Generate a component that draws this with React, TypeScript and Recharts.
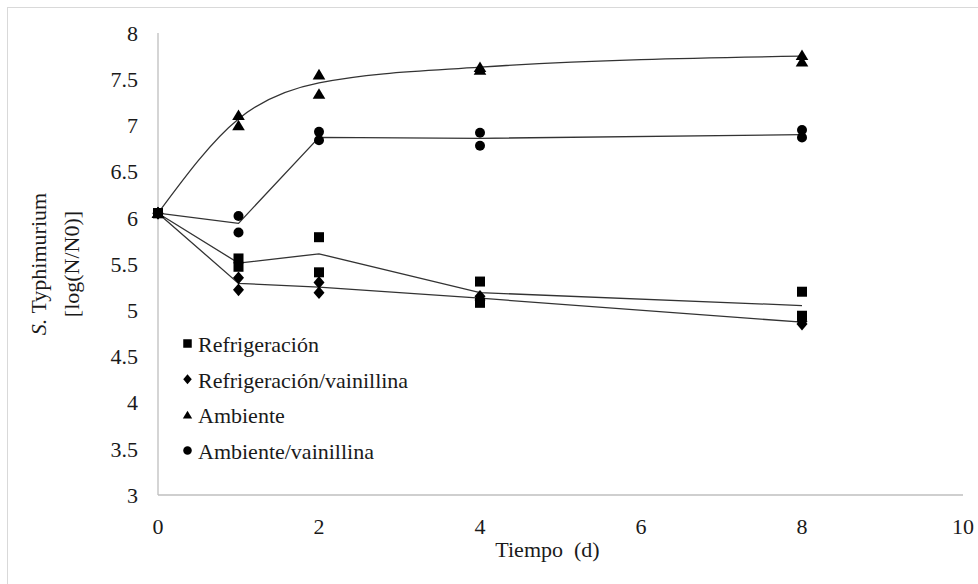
import React from 'react';
import { ComposedChart, Line, Scatter, XAxis, YAxis, Legend, Label } from 'recharts';

// días de muestreo
const days = [0, 1, 2, 4, 8];
const xTicks = [0, 2, 4, 6, 8, 10];
const yTicks = [3, 3.5, 4, 4.5, 5, 5.5, 6, 6.5, 7, 7.5, 8];

const seriesNames = ['Refrigeración', 'Refrigeración/vainillina', 'Ambiente', 'Ambiente/vainillina'];

// promedios (líneas)
const refMean = [6.05, 5.51, 5.61, 5.19, 5.05];
const refVanMean = [6.05, 5.29, 5.25, 5.13, 4.87];
const ambMean = [6.05, 7.07, 7.46, 7.63, 7.75];
const ambVanMean = [6.05, 5.94, 6.87, 6.86, 6.9];

// réplicas (puntos)
const refRepA = [6.05, 5.56, 5.79, 5.31, 5.2];
const refRepB = [6.05, 5.47, 5.41, 5.08, 4.94];
const refVanRepA = [6.05, 5.35, 5.3, 5.15, 4.88];
const refVanRepB = [6.05, 5.22, 5.19, 5.11, 4.85];
const ambRepA = [6.05, 7.11, 7.55, 7.63, 7.76];
const ambRepB = [6.05, 7.0, 7.34, 7.6, 7.69];
const ambVanRepA = [6.05, 6.02, 6.93, 6.92, 6.95];
const ambVanRepB = [6.05, 5.84, 6.84, 6.78, 6.87];

const FONT = "'Liberation Serif', 'Times New Roman', serif";
const INK = '#1a1a1a';

const toLine = (vals: number[]) => days.map((t, i) => ({ t, v: vals[i] }));
const toPoints = (a: number[], b: number[]) =>
  days.flatMap((t, i) => [
    { t, v: a[i] },
    { t, v: b[i] },
  ]);

const square = (cx: number, cy: number, s: number) => (
  <rect x={cx - s / 2} y={cy - s / 2} width={s} height={s} fill="#000" />
);
const diamond = (cx: number, cy: number, s: number) => (
  <path
    d={`M${cx},${cy - s * 0.58} L${cx + s / 2},${cy} L${cx},${cy + s * 0.58} L${cx - s / 2},${cy} Z`}
    fill="#000"
  />
);
const triangle = (cx: number, cy: number, s: number) => (
  <path
    d={`M${cx},${cy - s * 0.5} L${cx + s * 0.55},${cy + s * 0.42} L${cx - s * 0.55},${cy + s * 0.42} Z`}
    fill="#000"
  />
);
const circle = (cx: number, cy: number, s: number) => <circle cx={cx} cy={cy} r={s / 2} fill="#000" />;

const markers = [square, diamond, triangle, circle];

const shapeOf = (draw: typeof square, s: number) => (props: any) => {
  const { cx, cy } = props;
  if (cx == null || cy == null) return <g />;
  return draw(cx, cy, s);
};

const LegendBox = () => (
  <svg width={260} height={150} style={{ display: 'block' }}>
    {seriesNames.map((name, i) => {
      const base = 27 + i * 35.7;
      return (
        <g key={name}>
          {markers[i](12.5, base - 8.5, 8.5)}
          <text x={23} y={base} fontFamily={FONT} fontSize={22} fill={INK}>
            {name}
          </text>
        </g>
      );
    })}
  </svg>
);

const YTitle = ({ viewBox }: any) => {
  const cx = 46;
  const cy = viewBox.y + viewBox.height / 2;
  return (
    <text
      transform={`rotate(-90, ${cx}, ${cy})`}
      x={cx}
      y={cy}
      textAnchor="middle"
      fontFamily={FONT}
      fontSize={22}
      fill={INK}
    >
      <tspan x={cx} dy={0}>
        <tspan fontStyle="italic">S.</tspan> Typhimurium
      </tspan>
      <tspan x={cx} dy={33}>
        [log(N/N0)]
      </tspan>
    </text>
  );
};

const XTitle = ({ viewBox }: any) => (
  <text
    x={viewBox.x + viewBox.width / 2 - 13}
    y={viewBox.y + 62}
    textAnchor="middle"
    fontFamily={FONT}
    fontSize={22}
    fill={INK}
    style={{ whiteSpace: 'pre' }}
  >
    {'Tiempo  (d)'}
  </text>
);

export default function App() {
  const tickStyle = { fontSize: 22, fontFamily: FONT, fill: INK };
  const lineStroke = '#333';
  return (
    <div style={{ position: 'absolute', left: 0, top: 0, width: 978, height: 584, background: '#fff' }}>
      <div
        style={{
          position: 'absolute',
          left: 7,
          top: 7,
          width: 990,
          height: 600,
          border: '1px solid #d9d9d9',
          boxSizing: 'border-box',
        }}
      />
      <ComposedChart
        width={978}
        height={584}
        margin={{ top: 33, right: 15, bottom: 19, left: 0 }}
        style={{ position: 'absolute', left: 0, top: 0 }}
      >
        <XAxis
          type="number"
          dataKey="t"
          domain={[0, 10]}
          ticks={xTicks}
          height={70}
          tickLine={false}
          tickSize={0}
          tickMargin={23}
          axisLine={{ stroke: '#bfbfbf', strokeWidth: 1.3 }}
          tick={tickStyle}
          allowDuplicatedCategory={false}
        >
          <Label content={XTitle} />
        </XAxis>
        <YAxis
          type="number"
          domain={[3, 8]}
          ticks={yTicks}
          width={158}
          tickLine={false}
          tickSize={0}
          tickMargin={20}
          axisLine={{ stroke: '#bfbfbf', strokeWidth: 1.3 }}
          tick={tickStyle}
          interval={0}
        >
          <Label content={YTitle} />
        </YAxis>
        <Legend
          layout="vertical"
          align="center"
          verticalAlign="middle"
          wrapperStyle={{ left: 175, top: 325, width: 260, height: 150 }}
          content={LegendBox}
        />

        <Line data={toLine(ambMean)} dataKey="v" type="monotone" stroke={lineStroke} strokeWidth={1.3} dot={false} activeDot={false} legendType="none" isAnimationActive={false} />
        <Line data={toLine(ambVanMean)} dataKey="v" type="linear" stroke={lineStroke} strokeWidth={1.3} dot={false} activeDot={false} legendType="none" isAnimationActive={false} />
        <Line data={toLine(refMean)} dataKey="v" type="linear" stroke={lineStroke} strokeWidth={1.3} dot={false} activeDot={false} legendType="none" isAnimationActive={false} />
        <Line data={toLine(refVanMean)} dataKey="v" type="linear" stroke={lineStroke} strokeWidth={1.3} dot={false} activeDot={false} legendType="none" isAnimationActive={false} />

        <Scatter name={seriesNames[1]} data={toPoints(refVanRepA, refVanRepB)} dataKey="v" shape={shapeOf(diamond, 11)} isAnimationActive={false} />
        <Scatter name={seriesNames[2]} data={toPoints(ambRepA, ambRepB)} dataKey="v" shape={shapeOf(triangle, 11.5)} isAnimationActive={false} />
        <Scatter name={seriesNames[3]} data={toPoints(ambVanRepA, ambVanRepB)} dataKey="v" shape={shapeOf(circle, 10)} isAnimationActive={false} />
        <Scatter name={seriesNames[0]} data={toPoints(refRepA, refRepB)} dataKey="v" shape={shapeOf(square, 10)} isAnimationActive={false} />
      </ComposedChart>
    </div>
  );
}
